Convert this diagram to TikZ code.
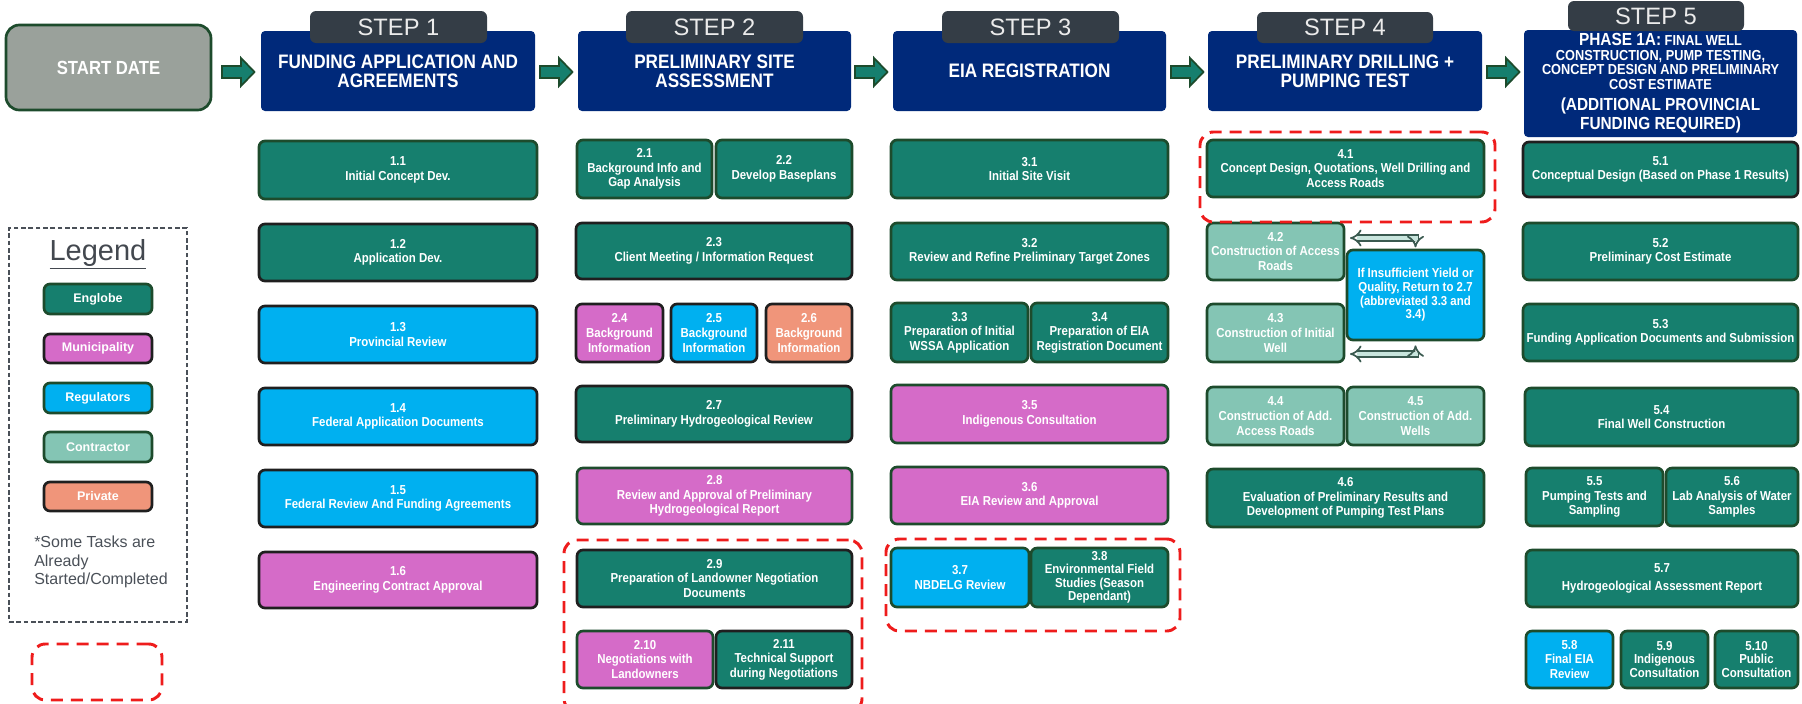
\documentclass[tikz,border=0pt]{standalone}
\usepackage{fontspec}
\setmainfont{Liberation Sans}
\newfontfamily\condf{Liberation Sans}[FakeStretch=0.88]
\usetikzlibrary{arrows.meta}
\definecolor{englobe}{HTML}{167F6E}
\definecolor{muni}{HTML}{D56BC8}
\definecolor{regul}{HTML}{00B0F0}
\definecolor{contr}{HTML}{84C5B4}
\definecolor{priv}{HTML}{F0957A}
\definecolor{navy}{HTML}{00297A}
\definecolor{tabgray}{HTML}{343D46}
\definecolor{startgray}{HTML}{9AA19B}
\definecolor{dkgreen}{HTML}{1D4B2C}
\definecolor{rdash}{HTML}{EE1C1C}
\definecolor{leggray}{HTML}{4A5058}
\definecolor{arrgray}{HTML}{3A5A50}
\newcommand\pxfs[2]{\fontsize{\fpeval{#1*0.75}pt}{\fpeval{#2*0.75}pt}\selectfont}
% \bx{options}{name}{x1}{y1}{x2}{y2}{text}
\newcommand\bx[7]{\node[#1, minimum width=\fpeval{(#5-#3)*0.75}pt, minimum height=\fpeval{(#6-#4)*0.75}pt, anchor=center] (#2) at (\fpeval{(#3+#5)/2},\fpeval{(#4+#6)/2}) {#7};}
\tikzset{
  box/.style={draw, line width=2pt, rounded corners=4.5pt, inner sep=0pt, text=white, align=center, font=\condf\bfseries\pxfs{13}{14.6}},
  bg/.style={draw=dkgreen},
  bk/.style={draw=black!88},
  eng/.style={box, fill=englobe},
  mun/.style={box, fill=muni},
  reg/.style={box, fill=regul},
  con/.style={box, fill=contr},
  pri/.style={box, fill=priv},
  navybox/.style={fill=navy, rounded corners=3pt, inner sep=0pt, text=white, align=center, font=\condf\bfseries\pxfs{19.5}{19}},
  tabbox/.style={fill=tabgray, rounded corners=4.5pt, inner sep=0pt, text=white!92!black, font=\pxfs{23.7}{24}},
  startbox/.style={fill=startgray, draw=dkgreen, line width=2pt, rounded corners=10pt, inner sep=0pt, text=white, font=\condf\bfseries\pxfs{19}{19}},
  blk/.style={fill=englobe, draw=dkgreen, line width=1.3pt, line join=miter},
  reddash/.style={draw=rdash, line width=2.2pt, dash pattern=on 9pt off 6pt, rounded corners=10pt, inner sep=0pt},
  legbox/.style={draw=leggray, line width=1pt, dash pattern=on 3.5pt off 2pt, inner sep=0pt},
  legentry/.style={box, font=\bfseries\pxfs{12.5}{13}},
  dbl/.style={draw=arrgray, line width=1.3pt, double=contr!45!white, double distance=3pt, {Implies}-{Implies}},
}
\newcommand\blockarrow[1]{\draw[blk] (#1) ++(0,-6) -- ++(19,0) -- ++(0,-8) -- ++(13.5,14) -- ++(-13.5,14) -- ++(0,-8) -- ++(-19,0) -- cycle;}
\begin{document}
\begin{tikzpicture}[x=0.75pt,y=-0.75pt]
\useasboundingbox (0,0) rectangle (1802,703);
\clip (0,0) rectangle (1802,703);

% ---------- headers ----------
\bx{startbox}{s0}{6}{25}{211}{110}{START DATE}
\bx{navybox}{s1}{261}{31}{535}{111}{FUNDING APPLICATION AND\\AGREEMENTS}
\bx{navybox}{s2}{578}{31}{851}{111}{PRELIMINARY SITE\\ASSESSMENT}
\bx{navybox}{s3}{893}{31}{1166}{111}{EIA REGISTRATION}
\bx{navybox}{s4}{1208}{31}{1482}{111}{PRELIMINARY DRILLING +\\PUMPING TEST}
\bx{navybox, font=\condf\bfseries\pxfs{14.5}{14.5}}{s5}{1524}{30}{1797}{137}
  {{\pxfs{17.5}{16}PHASE 1A:} FINAL WELL\\CONSTRUCTION, PUMP TESTING,\\CONCEPT DESIGN AND PRELIMINARY\\COST ESTIMATE\\[5pt]{\pxfs{17.5}{16}(ADDITIONAL PROVINCIAL}\\[1pt]{\pxfs{17.5}{16}FUNDING REQUIRED)}}

\bx{tabbox}{p1}{310}{11}{487}{43}{STEP 1}
\bx{tabbox}{p2}{626}{11}{803}{43}{STEP 2}
\bx{tabbox}{p3}{942}{11}{1119}{43}{STEP 3}
\bx{tabbox}{p4}{1257}{12}{1433}{43}{STEP 4}
\bx{tabbox}{p5}{1568}{1}{1744}{31}{STEP 5}

\coordinate (a1) at (222,72);
\coordinate (a2) at (540,72);
\coordinate (a3) at (855,72);
\coordinate (a4) at (1171,72);
\coordinate (a5) at (1487,72);
\blockarrow{a1}
\blockarrow{a2}
\blockarrow{a3}
\blockarrow{a4}
\blockarrow{a5}

% ---------- step 1 ----------
\bx{eng, bg}{t11}{259}{141}{537}{199}{1.1\\Initial Concept Dev.}
\bx{eng, bk}{t12}{259}{224}{537}{281}{1.2\\Application Dev.}
\bx{reg, bk}{t13}{259}{306}{537}{363}{1.3\\Provincial Review}
\bx{reg, bk}{t14}{259}{388}{537}{445}{1.4\\Federal Application Documents}
\bx{reg, bk}{t15}{259}{470}{537}{527}{1.5\\Federal Review And Funding Agreements}
\bx{mun, bk}{t16}{259}{552}{537}{608}{1.6\\Engineering Contract Approval}

% ---------- step 2 ----------
\bx{eng, bg}{t21}{577}{140}{712}{198}{2.1\\Background Info and\\Gap Analysis}
\bx{eng, bg}{t22}{716}{140}{852}{198}{2.2\\Develop Baseplans}
\bx{eng, bk}{t23}{576}{223}{852}{279}{2.3\\Client Meeting / Information Request}
\bx{mun, bk}{t24}{576}{304}{663}{362}{2.4\\Background\\Information}
\bx{reg, bk}{t25}{671}{304}{757}{362}{2.5\\Background\\Information}
\bx{pri, bk}{t26}{766}{304}{852}{362}{2.6\\Background\\Information}
\bx{eng, bk}{t27}{576}{386}{852}{442}{2.7\\Preliminary Hydrogeological Review}
\bx{mun, bg}{t28}{577}{468}{852}{524}{2.8\\Review and Approval of Preliminary\\Hydrogeological Report}
\bx{eng, bk}{t29}{577}{550}{852}{607}{2.9\\Preparation of Landowner Negotiation\\Documents}
\bx{mun, bg}{t210}{577}{631}{713}{688}{2.10\\Negotiations with\\Landowners}
\bx{eng, bk}{t211}{716}{631}{852}{688}{2.11\\Technical Support\\during Negotiations}

% ---------- step 3 ----------
\bx{eng, bg}{t31}{891}{140}{1168}{198}{3.1\\Initial Site Visit}
\bx{eng, bg}{t32}{891}{223}{1168}{280}{3.2\\Review and Refine Preliminary Target Zones}
\bx{eng, bg}{t33}{891}{303}{1028}{362}{3.3\\Preparation of Initial\\WSSA Application}
\bx{eng, bg}{t34}{1031}{303}{1168}{362}{3.4\\Preparation of EIA\\Registration Document}
\bx{mun, bg}{t35}{891}{385}{1168}{443}{3.5\\Indigenous Consultation}
\bx{mun, bg}{t36}{891}{467}{1168}{524}{3.6\\EIA Review and Approval}
\bx{reg, bg}{t37}{891}{548}{1029}{607}{3.7\\NBDELG Review}
\bx{eng, bg, font=\condf\bfseries\pxfs{13}{13.4}}{t38}{1031}{548}{1168}{607}{3.8\\Environmental Field\\Studies (Season\\Dependant)}

% ---------- step 4 ----------
\bx{eng, bg}{t41}{1207}{140}{1484}{197}{4.1\\Concept Design, Quotations, Well Drilling and\\Access Roads}
\bx{con, bg}{t42}{1207}{223}{1344}{280}{4.2\\Construction of Access\\Roads}
\bx{con, bg}{t43}{1207}{304}{1344}{362}{4.3\\Construction of Initial\\Well}
\bx{reg, bg, font=\condf\bfseries\pxfs{13}{13.6}}{ifb}{1347}{250}{1484}{340}{If Insufficient Yield or\\Quality, Return to 2.7\\(abbreviated 3.3 and\\3.4)}
\bx{con, bg}{t44}{1207}{387}{1344}{445}{4.4\\Construction of Add.\\Access Roads}
\bx{con, bg}{t45}{1347}{387}{1484}{445}{4.5\\Construction of Add.\\Wells}
\bx{eng, bg}{t46}{1207}{469}{1484}{527}{4.6\\Evaluation of Preliminary Results and\\Development of Pumping Test Plans}

\coordinate (d1) at (1350,238);
\coordinate (d2) at (1350,354);
\draw[dbl, shorten >=1pt] (d1) -| (ifb.north);
\draw[dbl, shorten >=3pt] (d2) -| (ifb.south);

% ---------- step 5 ----------
\bx{eng, bk}{t51}{1523}{142}{1798}{197}{5.1\\Conceptual Design (Based on Phase 1 Results)}
\bx{eng, bg}{t52}{1523}{223}{1798}{280}{5.2\\Preliminary Cost Estimate}
\bx{eng, bg}{t53}{1523}{304}{1798}{361}{5.3\\Funding Application Documents and Submission}
\bx{eng, bg}{t54}{1525}{388}{1798}{446}{5.4\\Final Well Construction}
\bx{eng, bg}{t55}{1526}{468}{1663}{526}{5.5\\Pumping Tests and\\Sampling}
\bx{eng, bg}{t56}{1666}{468}{1798}{526}{5.6\\Lab Analysis of Water\\Samples}
\bx{eng, bg}{t57}{1526}{550}{1798}{607}{5.7\\[3pt]Hydrogeological Assessment Report}
\bx{reg, bg}{t58}{1526}{631}{1613}{688}{5.8\\Final EIA\\Review}
\bx{eng, bg, font=\condf\bfseries\pxfs{13}{13.2}}{t59}{1621}{631}{1708}{688}{5.9\\Indigenous\\Consultation}
\bx{eng, bg, font=\condf\bfseries\pxfs{13}{13.2}}{t510}{1715}{631}{1798}{688}{5.10\\Public\\Consultation}

% ---------- red dashed groups ----------
\bx{reddash}{r41}{1200}{132}{1495}{222}{}
\bx{reddash}{r29}{564}{540}{862}{712}{}
\bx{reddash}{r37}{886}{539}{1180}{631}{}

% ---------- legend ----------
\bx{legbox}{leg}{9}{228}{187}{622}{}
\node[text=leggray!90!black, font=\pxfs{29}{30}] (legt) at (98,254) {\underline{Legend}};
\bx{legentry, fill=englobe, bg}{le1}{44}{284}{152}{314}{Englobe}
\bx{legentry, fill=muni, bk}{le2}{44}{334}{152}{363}{Municipality}
\bx{legentry, fill=regul, bg}{le3}{44}{383}{152}{413}{Regulators}
\bx{legentry, fill=contr, bg}{le4}{44}{432}{152}{462}{Contractor}
\bx{legentry, fill=priv, bk}{le5}{44}{482}{152}{511}{Private}
\node[anchor=north west, align=left, inner sep=0pt, text=leggray, font=\pxfs{16}{18.4}] (note) at (34,536) {*Some Tasks are\\Already\\Started/Completed};
\bx{reddash}{rleg}{32}{644}{162}{700}{}
\end{tikzpicture}
\end{document}
